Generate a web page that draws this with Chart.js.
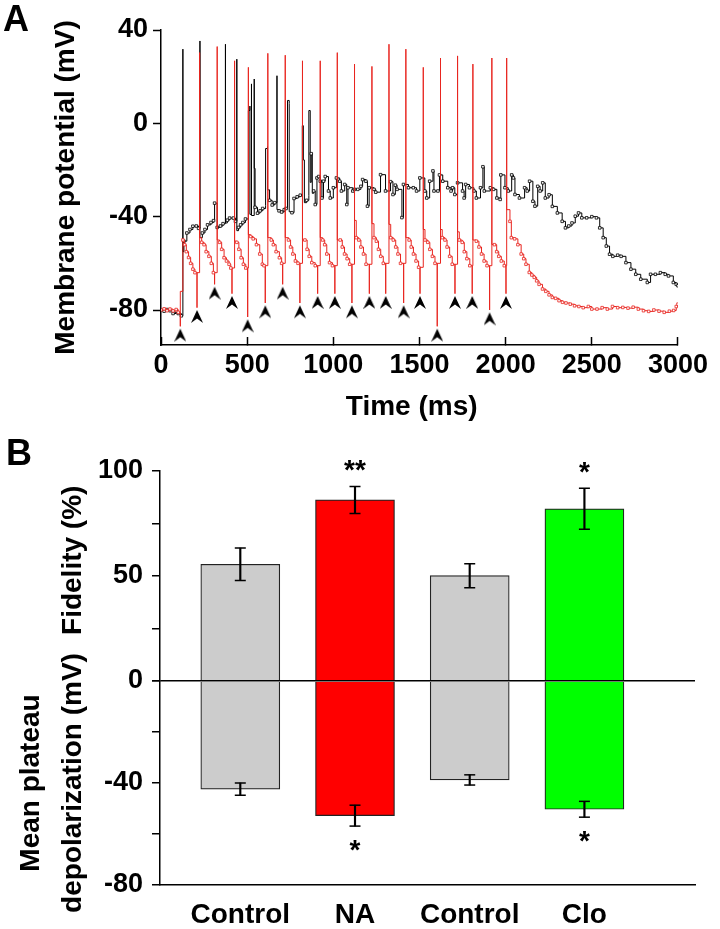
<!DOCTYPE html>
<html>
<head>
<meta charset="utf-8">
<script src="https://cdn.jsdelivr.net/npm/chart.js@4.4.1/dist/chart.umd.min.js"></script>
<style>
  body { margin: 0; background: #fff; }
  #wrap { position: relative; width: 720px; height: 929px; background: #fff; }
  canvas { position: absolute; left: 0; }
  .panel { position: absolute; font: bold 36px 'Liberation Sans', Arial, sans-serif; line-height: 36px; color: #000; }
</style>
</head>
<body>
<div id="wrap">
  <canvas id="chartA" width="720" height="430" style="top:0"></canvas>
  <canvas id="chartB" width="720" height="499" style="top:430px"></canvas>
  <div class="panel" style="left:3px;top:1px">A</div>
  <div class="panel" style="left:6px;top:435px">B</div>
</div>
<script>
// ---- panel A : membrane potential traces (ms, mV) ----
var yTicksA = [-80, -40, 0, 40];

// stimulus times and where the arrowheads sit (tip, mV)
var stimTimes = [112, 209, 311, 412, 503, 605, 706, 806, 909, 1009, 1108, 1209, 1304, 1408, 1503, 1603, 1706, 1806, 1907, 2002];
var arrowTip = [-88, -80, -70, -74, -84, -78, -70, -78, -74, -74, -78, -74, -74, -78, -74, -88, -74, -74, -81, -74];

// NA (red)
var redTrace = [
  [0,-80],[18,-79.5],[35,-80.3],[52,-79.6],[70,-80.4],[88,-79.8],[100,-81],
  [112,-81],[112,-87],[112,-72],
  [127,-50],[137,-52],[147,-55],[160,-57.5],[172,-60],[185,-62.5],[197,-64],
  [209,-64],[209,-79],[209,-64],[224,30.3],[224,-49],[236,-51],[250,-52],[262,-55],[278,-57],[292,-60],[304,-64],
  [311,-64],[311,-69],[311,-64],[326,32.9],[326,-50],[340,-51],[352,-54],[366,-57.6],[380,-59],[395,-60.4],[405,-62],
  [412,-62],[412,-73],[412,-62],[427,26.8],[427,-50.5],[440,-51],[452,-54],[465,-57.6],[478,-60.4],[492,-62],
  [503,-62],[503,-83],[503,-62],[507,24],[507,-47.7],[520,-48.5],[535,-49.5],[554,-52],[573,-56],[588,-60.4],[598,-61],
  [605,-61],[605,-77],[605,-61],[620,30],[620,-49],[640,-50],[652,-52],[668,-55],[687,-57.6],[700,-60],
  [706,-60],[706,-69],[706,-60],[721,29.2],[721,-49],[740,-50],[752,-53],[765,-56],[780,-59],[795,-60],
  [806,-60],[806,-77],[806,-60],[821,26.8],[821,-50],[835,-50],[848,-54],[860,-57],[875,-59.7],[895,-61],
  [909,-61],[909,-73],[909,-61],[924,26.8],[924,-49],[938,-50],[950,-52],[962,-56],[978,-59.7],[995,-61],
  [1009,-61],[1009,-73],[1009,-61],[1023,30.3],[1023,-50],[1040,-50],[1052,-53],[1065,-56],[1080,-58],[1095,-60.4],
  [1108,-60.4],[1108,-77],[1108,-60.4],[1123,25.4],[1123,-41.6],[1133,-49],[1148,-50],[1160,-53],[1175,-56],[1190,-60.4],
  [1209,-60.4],[1209,-73],[1209,-60.4],[1224,24.4],[1224,-43],[1236,-49],[1250,-50.5],[1262,-54],[1275,-57],[1290,-60],
  [1304,-60],[1304,-73],[1304,-60],[1323,33.9],[1323,-43.3],[1333,-49],[1348,-50],[1362,-53],[1375,-56],[1390,-60],
  [1408,-60],[1408,-77],[1408,-60],[1421,31.8],[1421,-49],[1440,-50],[1452,-53],[1465,-56],[1480,-59],[1495,-61.7],
  [1503,-61.7],[1503,-73],[1503,-61.7],[1522,24],[1522,-45.5],[1532,-50],[1548,-51],[1560,-54],[1575,-57],[1590,-60],
  [1603,-60],[1603,-87],[1603,-60],[1622,28],[1622,-45.5],[1632,-49],[1648,-50],[1660,-53],[1675,-57],[1690,-60.4],
  [1706,-60.4],[1706,-73],[1706,-60.4],[1721,28.9],[1721,-46.5],[1731,-50],[1748,-51],[1760,-55],[1775,-58],[1792,-61],
  [1806,-61],[1806,-73],[1806,-61],[1810,25.4],[1810,-50],[1830,-50.5],[1845,-53],[1860,-56],[1875,-59],[1892,-61],
  [1907,-61],[1907,-80],[1907,-61],[1920,28],[1920,-51.9],[1935,-52],[1948,-55],[1960,-57],[1975,-59],[1992,-61],
  [2002,-61],[2002,-73],[2002,-61],[2006,28],[2006,-37],[2025,-42],[2033,-49],[2052,-49.5],[2071,-52],[2090,-56],
  [2105,-58],[2118,-60.4],[2137,-63.9],[2152,-65],[2166,-66],[2180,-67.5],[2194,-69],[2214,-71],[2233,-72],[2252,-73.5],
  [2271,-74.6],[2290,-75],[2310,-76],[2330,-76.7],[2350,-77],[2375,-77.5],[2400,-78.2],[2425,-78.5],[2450,-79],[2480,-78.5],
  [2500,-79.6],[2530,-79.6],[2560,-79],[2590,-79.6],[2620,-78.5],[2650,-79],[2680,-78.9],[2710,-79.2],[2740,-78.8],[2770,-79.6],
  [2800,-80.3],[2830,-80.6],[2860,-80],[2890,-80.5],[2920,-81],[2950,-80.5],[2975,-80.2],[2990,-78.5],[3000,-77.5]
];

// Control (black)
var blackTrace = [
  [0,-80],[18,-80.5],[35,-79.8],[52,-80.3],[70,-81.5],[88,-80.5],[100,-81.5],[118,-82.5],
  [127,-82.5],[127,31.8],[127,-55],[133,-50.5],[150,-47],[168,-45.5],[185,-44.1],[205,-44],[218,-45],
  [226,-45],[226,35.3],[226,-49],[240,-47],[255,-45.5],[270,-43.5],[290,-42.5],[305,-41.7],
  [311,-34.2],[326,-44.6],[345,-44],[360,-43],
  [374,-43],[374,33.9],[374,-42.7],[385,-41.5],[398,-40.6],[420,-40.6],[432,-42],
  [440,-42],[440,27.5],[440,-46],[450,-44.6],[462,-43.5],[475,-42.5],[490,-41],
  [507,-41],[507,5.5],[516,7.4],[516,-39],[525,-39],[525,16.9],[525,-39.5],[541,-39.5],[541,19],[541,-19.3],
  [546,-36],[560,-38.5],[575,-37.5],[590,-36.5],
  [607,-35.2],[607,-10.8],[618,-10],[618,-28.5],[630,-33],[645,-35],[660,-34],
  [673,-33],[673,20.4],[673,-37],[685,-37.5],[700,-38],[715,-37],[726,-36.5],
  [734,-36.5],[734,9.8],[744,8.5],[744,-37.9],[760,-38.3],[772,-32.2],[790,-31.5],[808,-30.8],
  [820,-30.8],[820,-1],[826,-1],[826,-15.7],[832,-15.7],[832,-34],[845,-33],
  [858,-31],[858,5.5],[866,5.5],[866,-25.3],[872,-13],[878,-13],[878,-30],[886,-29],[895,-34.8],[905,-23.4],
  [915,-22.8],[924,-24.8],[934,-32],[943,-24.8],[953,-22.8],[972,-29],[982,-32],[1000,-27.6],[1018,-23.4],[1037,-24.8],
  [1047,-29],[1066,-26.2],[1078,-34.8],[1085,-27.6],[1113,-29],[1123,-28.3],[1142,-28.3],[1160,-27],[1170,-24.1],[1189,-24.8],
  [1198,-35.5],[1208,-27.6],[1236,-28.3],[1246,-29.5],[1274,-22],[1303,-29],[1332,-25],[1346,-30.5],[1360,-26.5],[1370,-28.3],
  [1398,-40.4],[1407,-26.2],[1436,-27.6],[1464,-27.6],[1483,-29],[1502,-23.4],[1531,-29],[1542,-32],[1559,-24.8],[1578,-20.4],
  [1584,-29],[1607,-29],[1616,-22.1],[1635,-24.8],[1664,-27.6],[1683,-29],[1692,-27.6],[1705,-30.5],[1721,-25.5],[1750,-29],
  [1759,-32],[1768,-26.2],[1790,-27.6],[1816,-29],[1830,-32],[1854,-27.6],[1868,-18.6],[1876,-29],[1911,-27.6],[1930,-28.3],
  [1949,-32],[1968,-32.6],[1972,-22.1],[1996,-27.6],[2015,-29],[2035,-22.1],[2045,-23.4],[2054,-30.5],[2080,-32],[2110,-27.6],
  [2125,-29],[2139,-24.8],[2158,-33.4],[2170,-35.5],[2186,-27],[2200,-29],[2215,-25.5],[2230,-32],[2252,-30.6],[2271,-35.6],
  [2300,-38.4],[2328,-42],[2347,-44.8],[2366,-44],[2385,-42.7],[2404,-39.8],[2423,-38.4],[2442,-40.5],[2470,-40.5],[2500,-40],
  [2527,-40.5],[2546,-44.8],[2566,-49],[2584,-52.6],[2603,-56.1],[2622,-57],[2650,-56.5],[2670,-57],[2698,-59.7],[2727,-62.5],
  [2755,-64.7],[2784,-66.8],[2822,-68.2],[2841,-64.7],[2869,-64.7],[2898,-64],[2926,-64.7],[2945,-65.4],[2973,-68.2],[2990,-69],
  [3000,-69.6]
];

// ---- panel B : fidelity / plateau bars ----
var groups = ['Control', 'NA', 'Control', 'Clo'];
var fidelity = [55.5, 86.1, 50.1, 81.9];
var fidelitySem = [7.7, 6.4, 5.7, 9.7];
var plateau = [-42.4, -52.8, -38.8, -50.3];
var plateauSem = [2.4, 4.1, 2.0, 3.1];
var barColors = ['#cccccc', '#ff0000', '#cccccc', '#00ff00'];
var sigAbove = ['', '**', '', '*'];
var sigBelow = ['', '*', '', '*'];

Chart.defaults.font.family = "'Liberation Sans', Arial, Helvetica, sans-serif";
Chart.defaults.font.weight = 'bold';
Chart.defaults.color = '#000';

// arrowhead marker, tip at the centre of the image
function makeArrow() {
    var c = document.createElement('canvas');
    c.width = 12;
    c.height = 28;
    var g = c.getContext('2d');
    g.fillStyle = '#000';
    g.beginPath();
    g.moveTo(6, 14);
    g.lineTo(12, 27);
    g.lineTo(6, 22.5);
    g.lineTo(0, 27);
    g.closePath();
    g.fill();
    return c;
}

// small open squares on the sampled points, none on spikes / stimulus dips
function sampleMarks(trace) {
    return function (c) {
        var i = c.dataIndex;
        var t = trace[i][0];
        var prev = trace[i - 1];
        var next = trace[i + 1];
        if ((prev && prev[0] === t) || (next && next[0] === t)) {
            return 0;
        }
        return 1.8;
    };
}

var arrowPts = stimTimes.map(function (t, i) { return {x: t, y: arrowTip[i]}; });

new Chart(document.getElementById('chartA'), {
    type: 'line',
    data: {
        datasets: [{
            label: 'stimulus',
            data: arrowPts,
            showLine: false,
            pointStyle: makeArrow(),
            pointRadius: 7,
            clip: false
        }, {
            label: 'NA',
            data: redTrace,
            borderColor: '#e8251f',
            borderWidth: 1,
            stepped: true,
            pointStyle: 'rect',
            pointRadius: sampleMarks(redTrace),
            pointBackgroundColor: '#fff',
            pointBorderColor: '#e8251f',
            pointBorderWidth: 0.8
        }, {
            label: 'Control',
            data: blackTrace,
            borderColor: '#000',
            borderWidth: 1,
            stepped: true,
            pointStyle: 'rect',
            pointRadius: sampleMarks(blackTrace),
            pointBackgroundColor: '#fff',
            pointBorderColor: '#000',
            pointBorderWidth: 0.8
        }]
    },
    options: {
        responsive: false,
        animation: false,
        events: [],
        layout: {padding: {top: 30, right: 32, left: 0, bottom: 0}},
        plugins: {legend: {display: false}, tooltip: {enabled: false}},
        scales: {
            x: {
                type: 'linear',
                min: 0,
                max: 3000,
                ticks: {stepSize: 500, font: {size: 27}, padding: 12, maxRotation: 0,
                    callback: function (v) { return String(v); }},
                grid: {drawOnChartArea: false, tickLength: -8, tickColor: '#000', tickWidth: 1.5},
                border: {color: '#000', width: 1.5},
                title: {display: true, text: 'Time (ms)  ', font: {size: 28}, padding: {top: 0, bottom: 6}},
                afterFit: function (s) { s.height = 85; }
            },
            y: {
                type: 'linear',
                min: -95,
                max: 40,
                afterBuildTicks: function (s) { s.ticks = yTicksA.map(function (v) { return {value: v}; }); },
                ticks: {font: {size: 27}, padding: 5},
                grid: {drawOnChartArea: false, tickLength: 8, tickColor: '#000', tickWidth: 1.5},
                border: {color: '#000', width: 1.5},
                title: {display: true, text: 'Membrane potential (mV)', font: {size: 28}, padding: {top: 49, bottom: 0}},
                afterFit: function (s) { s.width = 161; }
            }
        }
    }
});

// significance stars above / below the error bars
var sigPlugin = {
    id: 'sig',
    afterDatasetsDraw: function (chart) {
        var ctx = chart.ctx;
        var sc = chart.scales;
        ctx.save();
        ctx.font = "bold 28px 'Liberation Sans', Arial, sans-serif";
        ctx.fillStyle = '#000';
        ctx.textAlign = 'center';
        ctx.textBaseline = 'alphabetic';
        for (var i = 0; i < groups.length; i++) {
            var x = sc.x.getPixelForValue(i + 1);
            if (sigAbove[i]) {
                ctx.fillText(sigAbove[i], x, sc.yFid.getPixelForValue(fidelity[i] + fidelitySem[i]) - 7);
            }
            if (sigBelow[i]) {
                ctx.fillText(sigBelow[i], x, sc.yDep.getPixelForValue(plateau[i] - plateauSem[i]) + 33);
            }
        }
        ctx.restore();
    }
};

var fidPts = fidelity.map(function (v, i) { return {x: i + 1, y: v}; });
var depPts = plateau.map(function (v, i) { return {x: i + 1, y: v}; });
var fidErr = fidelity.map(function (v, i) { return {x: i + 1, y: [v - fidelitySem[i], v + fidelitySem[i]]}; });
var depErr = plateau.map(function (v, i) { return {x: i + 1, y: [v - plateauSem[i], v + plateauSem[i]]}; });
var fidCaps = [];
var depCaps = [];
for (var i = 0; i < groups.length; i++) {
    fidCaps.push({x: i + 1, y: fidelity[i] + fidelitySem[i]}, {x: i + 1, y: fidelity[i] - fidelitySem[i]});
    depCaps.push({x: i + 1, y: plateau[i] + plateauSem[i]}, {x: i + 1, y: plateau[i] - plateauSem[i]});
}

var capStyle = {pointStyle: 'line', pointRadius: 5.5, pointBorderColor: '#000', pointBorderWidth: 1.5, order: 0};
var errStyle = {backgroundColor: '#000', borderWidth: 0, barThickness: 1.5, grouped: false, order: 1};

new Chart(document.getElementById('chartB'), {
    type: 'bar',
    data: {
        datasets: [
            Object.assign({type: 'scatter', data: fidCaps, yAxisID: 'yFid'}, capStyle),
            Object.assign({type: 'scatter', data: depCaps, yAxisID: 'yDep'}, capStyle),
            Object.assign({data: fidErr, yAxisID: 'yFid'}, errStyle),
            Object.assign({data: depErr, yAxisID: 'yDep'}, errStyle),
            {
                label: 'Fidelity (%)',
                data: fidPts,
                yAxisID: 'yFid',
                backgroundColor: barColors,
                borderColor: '#222',
                borderWidth: 1.2,
                barThickness: 79,
                grouped: false,
                order: 2
            }, {
                label: 'Mean plateau depolarization (mV)',
                data: depPts,
                yAxisID: 'yDep',
                backgroundColor: barColors,
                borderColor: '#222',
                borderWidth: 1.2,
                barThickness: 79,
                grouped: false,
                order: 2
            }
        ]
    },
    options: {
        responsive: false,
        animation: false,
        events: [],
        layout: {padding: {top: 40.7, right: 25, left: 0, bottom: 0}},
        plugins: {legend: {display: false}, tooltip: {enabled: false}},
        scales: {
            x: {
                type: 'linear',
                offset: false,
                min: 0.3,
                max: 4.964,
                afterBuildTicks: function (s) { s.ticks = groups.map(function (g, i) { return {value: i + 1}; }); },
                ticks: {font: {size: 28}, padding: 13, maxRotation: 0, autoSkip: false,
                    callback: function (v) { return groups[v - 1] || ''; }},
                grid: {display: false, drawTicks: false, offset: false},
                border: {color: '#000', width: 1.5},
                afterFit: function (s) { s.height = 44; }
            },
            yFid: {
                type: 'linear',
                position: 'left',
                stack: 'b',
                stackWeight: 210.3,
                weight: 2,
                min: 0,
                max: 100,
                ticks: {stepSize: 25, autoSkip: false, font: {size: 27}, padding: 9,
                    callback: function (v) { return v % 50 === 0 ? v : ''; }},
                grid: {
                    z: 1,
                    lineWidth: 1.5,
                    color: function (c) { return c.tick && c.tick.value === 0 ? '#000' : 'rgba(0,0,0,0)'; },
                    tickColor: '#000',
                    tickLength: 8
                },
                border: {color: '#000', width: 1.5, z: 1},
                title: {display: true, text: ['', '    Fidelity (%)'], font: {size: 28, lineHeight: 1.48}, padding: {top: 11, bottom: 0}},
                afterFit: function (s) { s.width = 160; }
            },
            yDep: {
                type: 'linear',
                position: 'left',
                stack: 'b',
                stackWeight: 204,
                weight: 1,
                min: -80,
                max: 0,
                ticks: {stepSize: 20, autoSkip: false, font: {size: 27}, padding: 9,
                    callback: function (v) { return (v === -40 || v === -80) ? v : ''; }},
                grid: {drawOnChartArea: false, tickColor: '#000', tickLength: 8, lineWidth: 1.5},
                border: {color: '#000', width: 1.5},
                title: {display: true, text: ['Mean plateau', 'depolarization (mV)'], font: {size: 28, lineHeight: 1.48}, padding: {top: 11, bottom: 0}},
                afterFit: function (s) { s.width = 160; }
            }
        }
    },
    plugins: [sigPlugin]
});
</script>
</body>
</html>
